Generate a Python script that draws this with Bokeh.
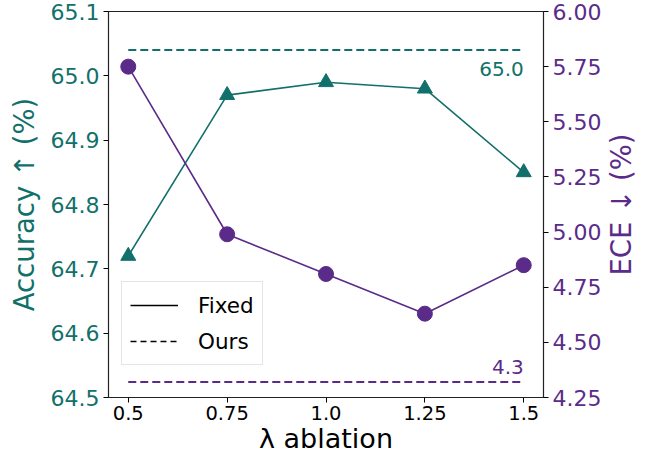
import math
from bokeh.plotting import figure
from bokeh.models import Range1d, LinearAxis, FixedTicker, Legend, LegendItem, Label
from bokeh.core.properties import value
from bokeh.embed import file_html
from bokeh.resources import INLINE

# data
lam = [0.5, 0.75, 1.0, 1.25, 1.5]
lam_labels = ["0.5", "0.75", "1.0", "1.25", "1.5"]
acc_fixed = [64.72, 64.97, 64.99, 64.98, 64.85]
ece_fixed = [5.75, 4.99, 4.81, 4.63, 4.85]
acc_ours = 65.04
ece_ours = 4.32
acc_ticks = [64.5, 64.6, 64.7, 64.8, 64.9, 65.0, 65.1]
ece_ticks = [4.25, 4.50, 4.75, 5.00, 5.25, 5.50, 5.75, 6.00]
x_lim = (0.45, 1.55)
acc_lim = (64.5, 65.1)
ece_lim = (4.25, 6.0)

TEAL = "#11706c"
PURPLE = "#5b2b8a"
FONT = "DejaVu Sans"

p = figure(frame_width=435, frame_height=386, output_backend="svg", toolbar_location=None,
           x_range=Range1d(*x_lim), y_range=Range1d(*acc_lim),
           min_border_left=108, min_border_right=109, min_border_top=11, min_border_bottom=59)
p.extra_y_ranges = {"ece": Range1d(*ece_lim)}
p.xgrid.visible = False
p.ygrid.visible = False
p.outline_line_color = "#222222"
p.outline_line_width = 1.2
p.background_fill_color = "white"
p.border_fill_color = "white"

# x axis
xa = p.xaxis[0]
xa.ticker = FixedTicker(ticks=lam)
xa.major_label_overrides = {v: s for v, s in zip(lam, lam_labels)}
xa.minor_tick_line_color = None
xa.axis_label = "λ ablation"
xa.axis_label_text_color = "black"
xa.axis_label_text_font = FONT
xa.axis_label_text_font_style = "normal"
xa.axis_label_text_font_size = "27px"
xa.axis_label_standoff = 0
xa.major_label_text_font = FONT
xa.major_label_text_font_size = "19.5px"
xa.major_label_text_color = "black"
xa.major_tick_out = 5
xa.major_tick_in = 0
xa.major_label_standoff = 3
xa.axis_line_color = "#222222"

# left axis
ya = p.yaxis[0]
ya.ticker = FixedTicker(ticks=acc_ticks)
ya.major_label_overrides = {v: f"{v:.1f}" for v in acc_ticks}
ya.minor_tick_line_color = None
ya.axis_label = "Accuracy ↑ (%)"
ya.axis_label_text_color = TEAL
ya.axis_label_text_font = FONT
ya.axis_label_text_font_style = "normal"
ya.axis_label_text_font_size = "27.5px"
ya.axis_label_standoff = 8
ya.major_label_text_color = TEAL
ya.major_label_text_font = FONT
ya.major_label_text_font_size = "22px"
ya.major_tick_out = 5
ya.major_tick_in = 0
ya.major_label_standoff = 4
ya.axis_line_color = "#222222"

# right axis
ra = LinearAxis(y_range_name="ece")
ra.ticker = FixedTicker(ticks=ece_ticks)
ra.major_label_overrides = {v: f"{v:.2f}" for v in ece_ticks}
ra.minor_tick_line_color = None
ra.major_label_text_color = PURPLE
ra.major_label_text_font = FONT
ra.major_label_text_font_size = "22px"
ra.major_tick_out = 5
ra.major_tick_in = 0
ra.major_label_standoff = 4
ra.axis_line_color = "#222222"
p.add_layout(ra, "right")

# right axis title (reads bottom-to-top), placed in the right side panel so it is not clipped
p.add_layout(Label(x=x_lim[1], y=(ece_lim[0] + ece_lim[1]) / 2, y_range_name="ece",
                   x_offset=77, text="ECE ↓ (%)", angle=math.pi / 2,
                   text_align="center", text_baseline="middle",
                   text_color=PURPLE, text_font=FONT, text_font_size="27.5px"), "right")

# ours dashed lines
p.line(x=[lam[0], lam[-1]], y=[acc_ours, acc_ours], line_color=TEAL, line_width=2, line_dash="8 4")
p.line(x=[lam[0], lam[-1]], y=[ece_ours, ece_ours], line_color=PURPLE, line_width=2, line_dash="8 4",
       y_range_name="ece")

# fixed series
p.line(x=lam, y=acc_fixed, line_color=TEAL, line_width=1.6)
p.scatter(x=lam, y=acc_fixed, marker="triangle", size=15, fill_color=TEAL, line_color=TEAL)
p.line(x=lam, y=ece_fixed, line_color=PURPLE, line_width=1.6, y_range_name="ece")
p.scatter(x=lam, y=ece_fixed, marker="circle", size=15, fill_color=PURPLE, line_color=PURPLE,
          y_range_name="ece")

# annotations
p.text(x=[lam[-1]], y=[acc_ours], text=[f"{acc_ours:.1f}"], text_align="right", text_baseline="top",
       y_offset=12, text_color=TEAL, text_font=value(FONT), text_font_size="20px")
p.text(x=[lam[-1]], y=[ece_ours], text=[f"{ece_ours:.1f}"], text_align="right", text_baseline="bottom",
       y_offset=-8, text_color=PURPLE, text_font=value(FONT), text_font_size="20px", y_range_name="ece")

# legend (proxy lines placed outside the visible range)
r_fixed = p.line(x=[-10, -9], y=[0, 0], line_color="black", line_width=1.6)
r_ours = p.line(x=[-10, -9], y=[0, 0], line_color="black", line_width=1.3, line_dash="6 4")
legend = Legend(items=[LegendItem(label="Fixed", renderers=[r_fixed]),
                       LegendItem(label="Ours", renderers=[r_ours])],
                location=(13, 32), orientation="vertical",
                label_text_font=FONT, label_text_font_size="21.5px", label_text_color="black",
                glyph_width=48, glyph_height=30, label_height=30, label_standoff=20,
                spacing=6, padding=8, margin=0,
                border_line_color="#cccccc", border_line_width=1,
                background_fill_color="white", background_fill_alpha=0.8)
p.add_layout(legend, "center")

open("out.html", "w").write(file_html(p, INLINE))
